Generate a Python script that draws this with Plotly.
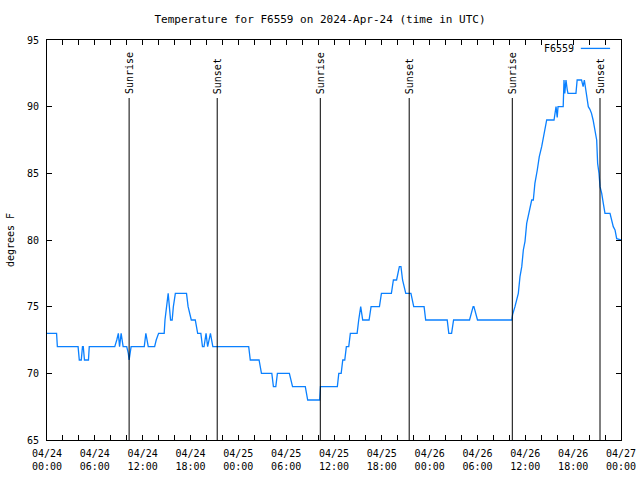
import pandas as pd
import plotly.graph_objects as go

# Hours since 2024-04-24 00:00 UTC and temperature (deg F)
hours = [0, 1.2, 1.3, 3.9, 4.05, 4.3, 4.45, 4.55, 4.7, 5.2, 5.3, 8.5, 8.75, 8.95, 9.1, 9.3,
         9.55, 10.0, 10.2, 10.3, 10.55, 12.2, 12.4, 12.7, 13.5, 13.7, 14.0, 14.7, 14.8, 15.0,
         15.2, 15.35, 15.5, 15.7, 15.85, 16.1, 17.5, 17.7, 18.1, 18.6, 18.9, 19.3, 19.5, 19.7,
         19.95, 20.15, 20.5, 20.8, 25.3, 25.5, 26.6, 26.9, 28.2, 28.4, 28.7, 28.9, 30.4, 30.8,
         32.4, 32.7, 34.2, 34.3, 36.42, 36.6, 36.9, 37.1, 37.35, 37.55, 37.85, 38.05, 38.9,
         39.1, 39.35, 39.6, 40.4, 40.65, 41.7, 41.95, 43.2, 43.45, 43.85, 44.2, 44.4, 44.6,
         45.0, 45.65, 46.0, 47.3, 47.5, 50.2, 50.4, 50.75, 51.0, 53.0, 53.45, 53.55, 54.0,
         58.3, 58.4, 58.7, 59.12, 59.33, 59.55, 59.75, 59.96, 60.17, 60.5, 60.8, 61.0, 61.2,
         61.5, 61.75, 62.05, 62.25, 62.47, 62.68, 63.6, 63.85, 64.0, 64.1, 64.75, 64.85,
         64.95, 65.1, 65.25, 65.35, 66.35, 66.5, 67.05, 67.25, 67.4, 67.6, 67.75, 67.9, 68.1,
         68.3, 68.5, 68.7, 68.95, 69.07, 69.24, 69.37, 69.58, 69.78, 69.99, 70.62, 70.75,
         71.03, 71.25, 71.46, 72.0]
temps = [73, 73, 72, 72, 71, 71, 72, 72, 71, 71, 72, 72, 72.5, 73, 72, 73,
         72, 72, 71.5, 71, 72, 72, 73, 72, 72, 72.5, 73, 73, 74, 75,
         76, 75, 74, 74, 75, 76, 76, 75, 74, 74, 73, 73, 72, 72,
         73, 72, 73, 72, 72, 71, 71, 70, 70, 69, 69, 70, 70, 69,
         69, 68, 68, 69, 69, 70, 70, 71, 71, 72, 72, 73, 73,
         74, 75, 74, 74, 75, 75, 76, 76, 77, 77, 78, 78, 77,
         76, 76, 75, 75, 74, 74, 73, 73, 74, 74, 75, 75, 74,
         74, 74.4, 75, 76, 77.25, 78, 79.25, 79.9, 81.25, 82.25, 83, 83, 84.25,
         85.25, 86.25, 87, 87.6, 88.25, 89, 89, 90, 89.2, 90, 90, 92,
         91, 92, 91.3, 91, 91, 92, 92, 91.5, 92, 91.2, 90.6, 90, 89.8,
         89.5, 89, 88.3, 87.5, 85.75, 85, 84, 83.5, 82.75, 82, 82, 81.6,
         81, 80.75, 80.1, 80]

sun_labels = ["Sunrise", "Sunset", "Sunrise", "Sunset", "Sunrise", "Sunset"]
sun_times = ["2024-04-24 10:18", "2024-04-24 21:21", "2024-04-25 10:17",
             "2024-04-25 21:26", "2024-04-26 10:22", "2024-04-26 21:22"]

base = pd.Timestamp("2024-04-24 00:00")
times = base + pd.to_timedelta(hours, unit="h")

FONT = "DejaVu Sans Mono"
fig = go.Figure()

fig.add_trace(go.Scatter(x=times, y=temps, mode="lines", name="F6559",
                         line=dict(color="#0a80ff", width=1.3), showlegend=False))

line_top = 90.65
for lab, t in zip(sun_labels, sun_times):
    fig.add_trace(go.Scatter(x=[t, t], y=[65, line_top], mode="lines",
                             line=dict(color="black", width=1), showlegend=False,
                             hoverinfo="skip"))
    fig.add_annotation(x=t, y=line_top + 0.15, text=lab, textangle=-90,
                       showarrow=False, xanchor="center", yanchor="bottom",
                       font=dict(family=FONT, size=10, color="black"))

# legend (gnuplot style: text then line sample)
fig.add_annotation(xref="paper", yref="paper", x=0.922, y=0.9775, text="F6559",
                   showarrow=False, xanchor="right", yanchor="middle",
                   font=dict(family=FONT, size=10, color="black"))
fig.add_shape(type="line", xref="paper", yref="paper", x0=0.930, x1=0.981,
              y0=0.979, y1=0.979, line=dict(color="#0a80ff", width=1.3))

fig.update_layout(
    width=640, height=480,
    margin=dict(l=47, r=19, t=40, b=40),
    paper_bgcolor="white", plot_bgcolor="white",
    title=dict(text="Temperature for F6559 on 2024-Apr-24 (time in UTC)",
               x=0.5, xanchor="center", y=1 - 19 / 480, yanchor="middle",
               font=dict(family=FONT, size=11, color="black")),
    font=dict(family=FONT, size=10, color="black"),
    showlegend=False,
)
fig.update_xaxes(
    range=["2024-04-24 00:00", "2024-04-27 00:00"],
    tick0="2024-04-24 00:00", dtick=6 * 3600 * 1000,
    tickformat="%m/%d<br>%H:%M",
    ticks="inside", ticklen=5, tickcolor="black",
    minor=dict(dtick=2 * 3600 * 1000, ticks="inside", ticklen=5, tickcolor="black"),
    showline=True, linecolor="black", linewidth=1, mirror="allticks",
    showgrid=False, zeroline=False, automargin=False, ticklabelstandoff=4,
    tickfont=dict(family=FONT, size=10, color="black"),
)
fig.update_yaxes(
    range=[65, 95], dtick=5, tick0=65,
    ticks="inside", ticklen=5, tickcolor="black",
    showline=True, linecolor="black", linewidth=1, mirror="allticks",
    showgrid=False, zeroline=False, automargin=False, ticklabelstandoff=5,
    title=dict(text="degrees F", font=dict(family=FONT, size=10, color="black"), standoff=10),
    tickfont=dict(family=FONT, size=10, color="black"),
)

fig.write_html("out.html")
